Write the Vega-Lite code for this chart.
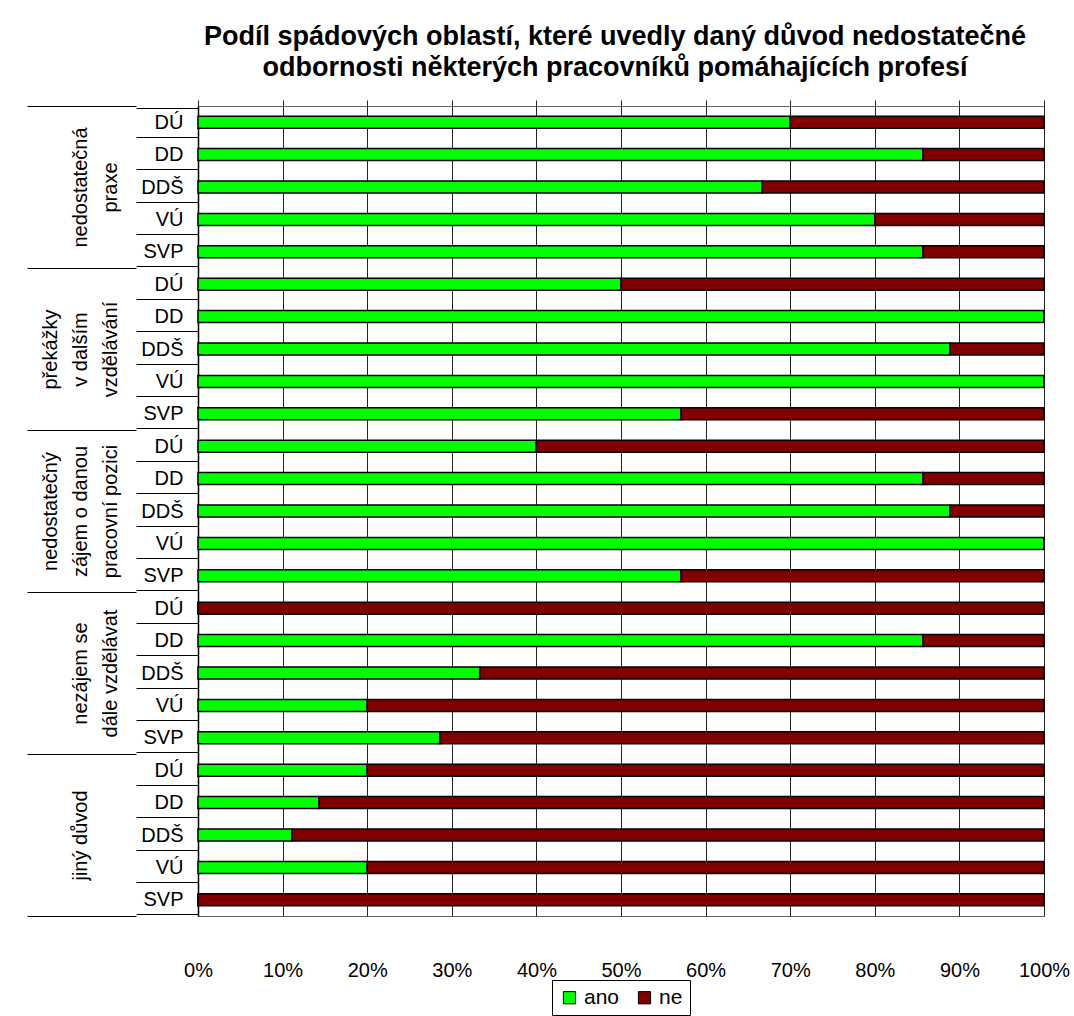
{
  "$schema": "https://vega.github.io/schema/vega-lite/v6.json",
  "width": 846,
  "height": 810,
  "autosize": {"type": "none"},
  "padding": {"left": 198, "top": 106, "right": 30, "bottom": 100},
  "background": "white",
  "title": {
    "text": ["Podíl spádových oblastí, které uvedly daný důvod nedostatečné", "odbornosti některých pracovníků pomáhajících profesí"],
    "fontSize": 27,
    "fontWeight": "bold",
    "font": "Liberation Sans",
    "anchor": "middle",
    "offset": 14,
    "dx": -6,
    "lineHeight": 31,
    "color": "black"
  },
  "data": {
    "values": [
      {"skupina": "nedostatečná\npraxe", "radek": "nedostatečná praxe|DÚ", "odpoved": "ano", "podil": 70},
      {"skupina": "nedostatečná\npraxe", "radek": "nedostatečná praxe|DÚ", "odpoved": "ne", "podil": 30},
      {"skupina": "nedostatečná\npraxe", "radek": "nedostatečná praxe|DD", "odpoved": "ano", "podil": 85.7},
      {"skupina": "nedostatečná\npraxe", "radek": "nedostatečná praxe|DD", "odpoved": "ne", "podil": 14.3},
      {"skupina": "nedostatečná\npraxe", "radek": "nedostatečná praxe|DDŠ", "odpoved": "ano", "podil": 66.7},
      {"skupina": "nedostatečná\npraxe", "radek": "nedostatečná praxe|DDŠ", "odpoved": "ne", "podil": 33.3},
      {"skupina": "nedostatečná\npraxe", "radek": "nedostatečná praxe|VÚ", "odpoved": "ano", "podil": 80},
      {"skupina": "nedostatečná\npraxe", "radek": "nedostatečná praxe|VÚ", "odpoved": "ne", "podil": 20},
      {"skupina": "nedostatečná\npraxe", "radek": "nedostatečná praxe|SVP", "odpoved": "ano", "podil": 85.7},
      {"skupina": "nedostatečná\npraxe", "radek": "nedostatečná praxe|SVP", "odpoved": "ne", "podil": 14.3},

      {"skupina": "překážky\nv dalším\nvzdělávání", "radek": "překážky v dalším vzdělávání|DÚ", "odpoved": "ano", "podil": 50},
      {"skupina": "překážky\nv dalším\nvzdělávání", "radek": "překážky v dalším vzdělávání|DÚ", "odpoved": "ne", "podil": 50},
      {"skupina": "překážky\nv dalším\nvzdělávání", "radek": "překážky v dalším vzdělávání|DD", "odpoved": "ano", "podil": 100},
      {"skupina": "překážky\nv dalším\nvzdělávání", "radek": "překážky v dalším vzdělávání|DD", "odpoved": "ne", "podil": 0},
      {"skupina": "překážky\nv dalším\nvzdělávání", "radek": "překážky v dalším vzdělávání|DDŠ", "odpoved": "ano", "podil": 88.9},
      {"skupina": "překážky\nv dalším\nvzdělávání", "radek": "překážky v dalším vzdělávání|DDŠ", "odpoved": "ne", "podil": 11.1},
      {"skupina": "překážky\nv dalším\nvzdělávání", "radek": "překážky v dalším vzdělávání|VÚ", "odpoved": "ano", "podil": 100},
      {"skupina": "překážky\nv dalším\nvzdělávání", "radek": "překážky v dalším vzdělávání|VÚ", "odpoved": "ne", "podil": 0},
      {"skupina": "překážky\nv dalším\nvzdělávání", "radek": "překážky v dalším vzdělávání|SVP", "odpoved": "ano", "podil": 57.1},
      {"skupina": "překážky\nv dalším\nvzdělávání", "radek": "překážky v dalším vzdělávání|SVP", "odpoved": "ne", "podil": 42.9},

      {"skupina": "nedostatečný\nzájem o danou\npracovní pozici", "radek": "nedostatečný zájem o danou pracovní pozici|DÚ", "odpoved": "ano", "podil": 40},
      {"skupina": "nedostatečný\nzájem o danou\npracovní pozici", "radek": "nedostatečný zájem o danou pracovní pozici|DÚ", "odpoved": "ne", "podil": 60},
      {"skupina": "nedostatečný\nzájem o danou\npracovní pozici", "radek": "nedostatečný zájem o danou pracovní pozici|DD", "odpoved": "ano", "podil": 85.7},
      {"skupina": "nedostatečný\nzájem o danou\npracovní pozici", "radek": "nedostatečný zájem o danou pracovní pozici|DD", "odpoved": "ne", "podil": 14.3},
      {"skupina": "nedostatečný\nzájem o danou\npracovní pozici", "radek": "nedostatečný zájem o danou pracovní pozici|DDŠ", "odpoved": "ano", "podil": 88.9},
      {"skupina": "nedostatečný\nzájem o danou\npracovní pozici", "radek": "nedostatečný zájem o danou pracovní pozici|DDŠ", "odpoved": "ne", "podil": 11.1},
      {"skupina": "nedostatečný\nzájem o danou\npracovní pozici", "radek": "nedostatečný zájem o danou pracovní pozici|VÚ", "odpoved": "ano", "podil": 100},
      {"skupina": "nedostatečný\nzájem o danou\npracovní pozici", "radek": "nedostatečný zájem o danou pracovní pozici|VÚ", "odpoved": "ne", "podil": 0},
      {"skupina": "nedostatečný\nzájem o danou\npracovní pozici", "radek": "nedostatečný zájem o danou pracovní pozici|SVP", "odpoved": "ano", "podil": 57.1},
      {"skupina": "nedostatečný\nzájem o danou\npracovní pozici", "radek": "nedostatečný zájem o danou pracovní pozici|SVP", "odpoved": "ne", "podil": 42.9},

      {"skupina": "nezájem se\ndále vzdělávat", "radek": "nezájem se dále vzdělávat|DÚ", "odpoved": "ano", "podil": 0},
      {"skupina": "nezájem se\ndále vzdělávat", "radek": "nezájem se dále vzdělávat|DÚ", "odpoved": "ne", "podil": 100},
      {"skupina": "nezájem se\ndále vzdělávat", "radek": "nezájem se dále vzdělávat|DD", "odpoved": "ano", "podil": 85.7},
      {"skupina": "nezájem se\ndále vzdělávat", "radek": "nezájem se dále vzdělávat|DD", "odpoved": "ne", "podil": 14.3},
      {"skupina": "nezájem se\ndále vzdělávat", "radek": "nezájem se dále vzdělávat|DDŠ", "odpoved": "ano", "podil": 33.3},
      {"skupina": "nezájem se\ndále vzdělávat", "radek": "nezájem se dále vzdělávat|DDŠ", "odpoved": "ne", "podil": 66.7},
      {"skupina": "nezájem se\ndále vzdělávat", "radek": "nezájem se dále vzdělávat|VÚ", "odpoved": "ano", "podil": 20},
      {"skupina": "nezájem se\ndále vzdělávat", "radek": "nezájem se dále vzdělávat|VÚ", "odpoved": "ne", "podil": 80},
      {"skupina": "nezájem se\ndále vzdělávat", "radek": "nezájem se dále vzdělávat|SVP", "odpoved": "ano", "podil": 28.6},
      {"skupina": "nezájem se\ndále vzdělávat", "radek": "nezájem se dále vzdělávat|SVP", "odpoved": "ne", "podil": 71.4},

      {"skupina": "jiný důvod", "radek": "jiný důvod|DÚ", "odpoved": "ano", "podil": 20},
      {"skupina": "jiný důvod", "radek": "jiný důvod|DÚ", "odpoved": "ne", "podil": 80},
      {"skupina": "jiný důvod", "radek": "jiný důvod|DD", "odpoved": "ano", "podil": 14.3},
      {"skupina": "jiný důvod", "radek": "jiný důvod|DD", "odpoved": "ne", "podil": 85.7},
      {"skupina": "jiný důvod", "radek": "jiný důvod|DDŠ", "odpoved": "ano", "podil": 11.1},
      {"skupina": "jiný důvod", "radek": "jiný důvod|DDŠ", "odpoved": "ne", "podil": 88.9},
      {"skupina": "jiný důvod", "radek": "jiný důvod|VÚ", "odpoved": "ano", "podil": 20},
      {"skupina": "jiný důvod", "radek": "jiný důvod|VÚ", "odpoved": "ne", "podil": 80},
      {"skupina": "jiný důvod", "radek": "jiný důvod|SVP", "odpoved": "ano", "podil": 0},
      {"skupina": "jiný důvod", "radek": "jiný důvod|SVP", "odpoved": "ne", "podil": 100}
    ]
  },
  "layer": [
    {
      "mark": {"type": "bar", "size": 12, "stroke": "black", "strokeWidth": 1.5},
      "encoding": {
        "y": {
          "field": "radek",
          "type": "nominal",
          "sort": null,
          "axis": {
            "orient": "left",
            "title": null,
            "labelExpr": "isString(datum.value) && indexof(datum.value, '|') >= 0 ? split(datum.value, '|')[1] : ''",
            "tickBand": "extent",
            "tickSize": 62,
            "tickColor": "black",
            "tickWidth": 1,
            "labelPadding": -47,
            "labelFontSize": 20,
            "labelColor": "black",
            "labelAlign": "right",
            "labelBaseline": "middle",
            "domainColor": "black",
            "domainWidth": 1.5,
            "grid": false
          }
        },
        "x": {
          "field": "podil",
          "type": "quantitative",
          "stack": "normalize",
          "scale": {"domain": [0, 1], "nice": false},
          "axis": {
            "orient": "bottom",
            "title": null,
            "format": ".0%",
            "values": [0, 0.1, 0.2, 0.3, 0.4, 0.5, 0.6, 0.7, 0.8, 0.9, 1],
            "grid": true,
            "gridColor": "#222222",
            "gridWidth": 1,
            "ticks": false,
            "domain": false,
            "labelFlush": false,
            "labelPadding": 44,
            "labelFontSize": 20,
            "labelColor": "black"
          }
        },
        "color": {
          "field": "odpoved",
          "type": "nominal",
          "scale": {"domain": ["ano", "ne"], "range": ["#00FF00", "#800000"]},
          "legend": {
            "title": null,
            "orient": "bottom",
            "direction": "horizontal",
            "symbolType": "square",
            "symbolSize": 150,
            "symbolStrokeColor": "black",
            "symbolStrokeWidth": 1,
            "symbolOpacity": 1,
            "labelFontSize": 21,
            "labelColor": "black",
            "strokeColor": "black",
            "padding": 7,
            "offset": 0,
            "columnPadding": 14
          }
        }
      }
    },
    {
      "mark": {"type": "point", "opacity": 0},
      "encoding": {
        "y": {
          "field": "skupina",
          "type": "nominal",
          "sort": null,
          "axis": {
            "orient": "left",
            "title": null,
            "offset": 62,
            "tickBand": "extent",
            "tickSize": 109,
            "tickColor": "black",
            "tickWidth": 1,
            "labelPadding": -33,
            "labelAngle": -90,
            "labelAlign": "center",
            "labelBaseline": "bottom",
            "labelExpr": "!isString(datum.value) || datum.value == 'undefined' ? '' : length(split(datum.value, '\\n')) == 1 ? [' ', ' ', datum.value] : length(split(datum.value, '\\n')) == 2 ? split(' \\n' + datum.value, '\\n') : split(datum.value, '\\n')",
            "labelFontSize": 20,
            "labelLineHeight": 30,
            "labelColor": "black",
            "labelLimit": 0,
            "domain": false,
            "grid": false
          }
        },
        "x": {
          "datum": 0,
          "type": "quantitative",
          "axis": {
            "orient": "top",
            "title": null,
            "labels": false,
            "domain": false,
            "grid": false,
            "ticks": true,
            "tickSize": 6,
            "tickColor": "#222222",
            "values": [0, 0.1, 0.2, 0.3, 0.4, 0.5, 0.6, 0.7, 0.8, 0.9, 1]
          }
        }
      }
    }
  ],
  "resolve": {"scale": {"y": "independent"}, "axis": {"x": "independent"}},
  "config": {
    "font": "Liberation Sans",
    "view": {"stroke": "#666666", "strokeWidth": 1},
    "legend": {"layout": {"bottom": {"anchor": "middle"}}}
  }
}
